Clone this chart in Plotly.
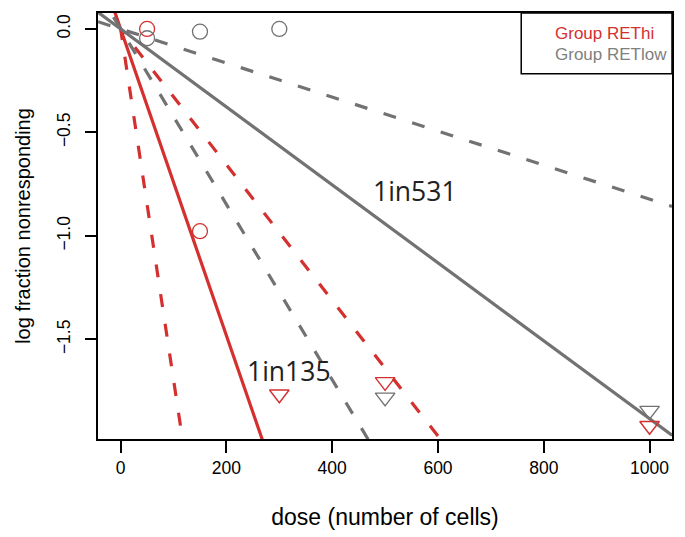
import plotly.graph_objects as go

# ---- data ----
groups = ["REThi", "RETlow"]
estimate = {"REThi": 135, "RETlow": 531}
ci_lower = {"REThi": 59, "RETlow": 236}
ci_upper = {"REThi": 305, "RETlow": 1216}

# observed points with some non-responders (circles)
hi_circ_dose = [50, 150]
hi_circ_y = [0.0, -0.977]
low_circ_dose = [50, 150, 300]
low_circ_y = [-0.045, -0.013, 0.0]

# all responded (triangles)
hi_tri_dose = [300, 500, 1000]
hi_tri_y = [-1.765, -1.705, -1.917]
low_tri_dose = [500, 1000]
low_tri_y = [-1.78, -1.844]

label_text = ["1in531", "1in135"]
label_x = [557, 318]
label_y = [-0.784, -1.652]

x_ticks = [0, 200, 400, 600, 800, 1000]
y_ticks = [0.0, -0.5, -1.0, -1.5]
y_tick_text = ["0.0", "\u22120.5", "\u22121.0", "\u22121.5"]

xr = [-42.8, 1042.4]
yr = [-1.981, 0.0771]

RED = "#d3302f"
GRAY = "#727272"
colors = {"REThi": RED, "RETlow": GRAY}

fig = go.Figure()

def add_line(est, color, dash):
    xs = [xr[0], xr[1]]
    ys = [-x / est for x in xs]
    fig.add_trace(go.Scatter(x=xs, y=ys, mode="lines",
                             line=dict(color=color, width=3.2, dash=dash),
                             hoverinfo="skip", showlegend=False))

for g in groups:
    c = colors[g]
    add_line(ci_lower[g], c, "13px,17px")
    add_line(ci_upper[g], c, "13px,17px")
    add_line(estimate[g], c, "solid")

fig.add_trace(go.Scatter(x=hi_circ_dose, y=hi_circ_y, mode="markers",
                         marker=dict(symbol="circle-open", size=15, color=RED, line=dict(width=1.3)),
                         showlegend=False))
fig.add_trace(go.Scatter(x=low_circ_dose, y=low_circ_y, mode="markers",
                         marker=dict(symbol="circle-open", size=15, color=GRAY, line=dict(width=1.3)),
                         showlegend=False))
fig.add_trace(go.Scatter(x=hi_tri_dose, y=hi_tri_y, mode="markers",
                         marker=dict(symbol="triangle-down-open", size=17, color=RED, line=dict(width=1.4)),
                         showlegend=False, cliponaxis=False))
fig.add_trace(go.Scatter(x=low_tri_dose, y=low_tri_y, mode="markers",
                         marker=dict(symbol="triangle-down-open", size=17, color=GRAY, line=dict(width=1.4)),
                         showlegend=False, cliponaxis=False))

for t, x, y in zip(label_text, label_x, label_y):
    fig.add_annotation(x=x, y=y, text=t, showarrow=False,
                       font=dict(family="Open Sans", size=26.5, color="#222222"))

# legend box
fig.add_shape(type="rect", xref="paper", yref="paper",
              x0=(522.7 - 98) / 576, x1=1.0, y0=(440 - 74) / 427, y1=1.0,
              line=dict(color="black", width=1.5), fillcolor="white", layer="above")
fig.add_annotation(xref="paper", yref="paper", x=(555 - 98) / 576, y=(440 - 33.3) / 427,
                   xanchor="left", yanchor="middle", text="Group REThi", showarrow=False,
                   font=dict(family="Liberation Sans", size=17, color=RED))
fig.add_annotation(xref="paper", yref="paper", x=(555 - 98) / 576, y=(440 - 55) / 427,
                   xanchor="left", yanchor="middle", text="Group RETlow", showarrow=False,
                   font=dict(family="Liberation Sans", size=17, color="#808080"))

fig.update_layout(
    width=685, height=537,
    margin=dict(l=98, r=11, t=13, b=97),
    paper_bgcolor="white", plot_bgcolor="white",
    font=dict(family="Liberation Sans", color="black"),
    xaxis=dict(range=xr, tickvals=x_ticks, ticks="outside", ticklen=12, tickwidth=1.5,
               tickcolor="black", showline=True, mirror=True, linecolor="black", linewidth=1.5,
               showgrid=False, zeroline=False, tickfont=dict(size=17.5),
               title=dict(text="dose (number of cells)", font=dict(size=23), standoff=32)),
    yaxis=dict(range=yr, tickvals=y_ticks, ticktext=y_tick_text, tickangle=-90,
               ticks="outside", ticklen=11, tickwidth=1.5, ticklabelstandoff=8,
               tickcolor="black", showline=True, mirror=True, linecolor="black", linewidth=1.5,
               showgrid=False, zeroline=False, tickfont=dict(size=17.5),
               title=dict(text="log fraction nonresponding", font=dict(size=20), standoff=18)),
)

fig.write_html("out.html")
